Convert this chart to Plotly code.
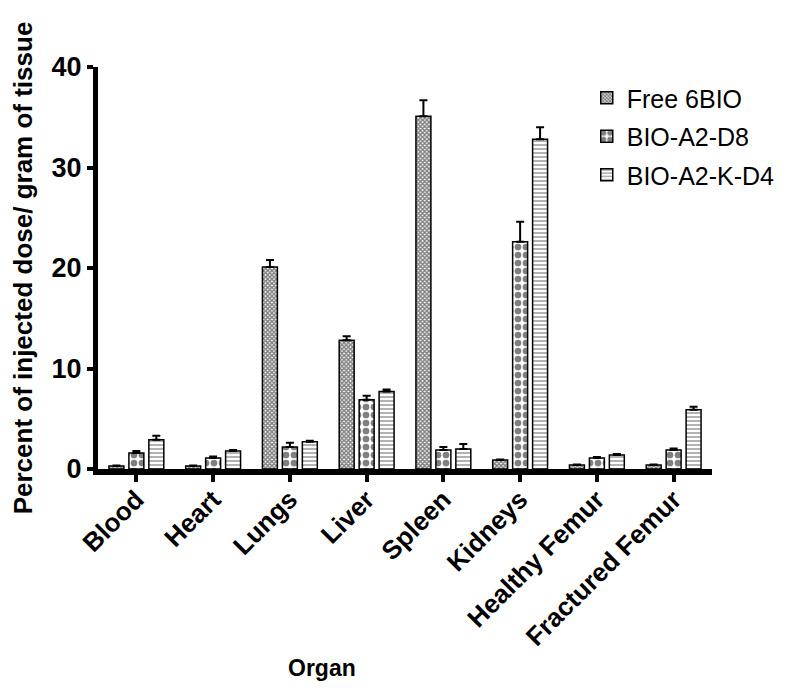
import plotly.graph_objects as go

# Biodistribution data
organs = ["Blood", "Heart", "Lungs", "Liver", "Spleen", "Kidneys", "Healthy Femur", "Fractured Femur"]

free_6bio = [0.3, 0.3, 20.1, 12.8, 35.1, 0.9, 0.4, 0.4]
free_6bio_err = [0.05, 0.05, 0.7, 0.4, 1.6, 0.05, 0.05, 0.05]

bio_a2_d8 = [1.6, 1.1, 2.2, 6.9, 1.9, 22.6, 1.1, 1.9]
bio_a2_d8_err = [0.2, 0.15, 0.4, 0.4, 0.3, 2.0, 0.1, 0.15]

bio_a2_k_d4 = [2.9, 1.8, 2.7, 7.7, 2.0, 32.8, 1.4, 5.9]
bio_a2_k_d4_err = [0.4, 0.1, 0.1, 0.2, 0.5, 1.2, 0.1, 0.3]

FONT = "Arial, Liberation Sans, sans-serif"

series = [
    ("Free 6BIO", free_6bio, free_6bio_err, dict(shape="x", size=3, solidity=0.7)),
    ("BIO-A2-D8", bio_a2_d8, bio_a2_d8_err, dict(shape=".", size=8, solidity=0.55)),
    ("BIO-A2-K-D4", bio_a2_k_d4, bio_a2_k_d4_err, dict(shape="-", size=4, solidity=0.3)),
]

fig = go.Figure()
for name, vals, errs, pat in series:
    fig.add_trace(go.Bar(
        x=organs, y=vals, name=name, legendgroup=name,
        marker=dict(color="white", line=dict(color="black", width=1.5),
                    pattern=dict(fgcolor="black", bgcolor="white", fillmode="overlay", **pat)),
        error_y=dict(type="data", symmetric=False, array=errs, arrayminus=[0] * len(errs),
                     color="black", thickness=2, width=4),
    ))

# the page body adds an 8px offset, margins compensate for it
fig.update_layout(
    width=790, height=693,
    barmode="group", bargap=0.22, bargroupgap=0.25,
    plot_bgcolor="white", paper_bgcolor="white",
    margin=dict(l=90, r=86, t=59, b=232, autoexpand=False),
    font=dict(family=FONT, color="black"),
    legend=dict(x=0.796, y=0.98, xanchor="left", yanchor="top",
                font=dict(size=25, family=FONT, color="black"),
                traceorder="grouped", tracegroupgap=3,
                bgcolor="rgba(0,0,0,0)"),
    showlegend=True,
)

fig.update_yaxes(
    range=[0, 40], tickvals=[0, 10, 20, 30, 40],
    showgrid=False, zeroline=False, automargin=False,
    showline=True, linecolor="black", linewidth=5,
    ticks="outside", ticklen=6, tickwidth=4, tickcolor="black",
    tickfont=dict(size=27, family=FONT, weight="bold"),
    title=dict(text="Percent of injected dose/ gram of tissue",
               font=dict(size=26, family=FONT, weight="bold"), standoff=22),
)

fig.update_xaxes(
    range=[-0.5, 7.5],
    showgrid=False, zeroline=False, automargin=False,
    showline=True, linecolor="black", linewidth=6,
    ticks="outside", ticklen=7, tickwidth=4, tickcolor="black",
    tickangle=-45, ticklabelstandoff=-8,
    tickfont=dict(size=26, family=FONT, weight="bold"),
)

fig.add_annotation(
    text="Organ", xref="paper", yref="paper", x=0.365, y=-0.495,
    showarrow=False, font=dict(size=23, family=FONT, weight="bold"),
    xanchor="center", yanchor="middle",
)

fig.write_html("out.html")
